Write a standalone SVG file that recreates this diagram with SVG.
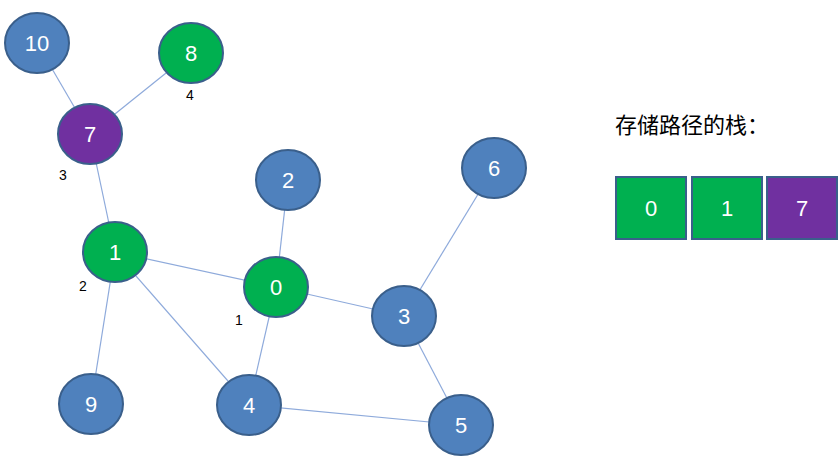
<svg xmlns="http://www.w3.org/2000/svg" width="838" height="475" viewBox="0 0 838 475">
<style>
.n{stroke:#3A5F8B;stroke-width:2}
.b{fill:#4F81BD}.g{fill:#00B050}.p{fill:#7030A0}
.t{font-family:"Liberation Sans",Arial,sans-serif;font-size:22px;fill:#fff;text-anchor:middle;dominant-baseline:central}
.s{font-family:"Liberation Sans",Arial,sans-serif;font-size:14px;fill:#000;text-anchor:middle}
.e{stroke:#8EAADB;stroke-width:1.2}
.bx{stroke:#3A5F8B;stroke-width:2}
</style>
<rect width="838" height="475" fill="#fff"/>
<g id="connectors" class="e">
<line x1="37" y1="43" x2="90" y2="134"/>
<line x1="191" y1="53" x2="90" y2="134"/>
<line x1="90" y1="134" x2="115" y2="252"/>
<line x1="115" y1="252" x2="276" y2="287"/>
<line x1="288" y1="180" x2="276" y2="287"/>
<line x1="276" y1="287" x2="404" y2="316"/>
<line x1="494" y1="168" x2="404" y2="316"/>
<line x1="404" y1="316" x2="461" y2="425"/>
<line x1="115" y1="252" x2="91" y2="404"/>
<line x1="115" y1="252" x2="249" y2="405"/>
<line x1="276" y1="287" x2="249" y2="405"/>
<line x1="249" y1="405" x2="461" y2="425"/>
</g>
<g id="n10"><ellipse class="n b" cx="37" cy="43" rx="32" ry="30"/><text class="t" x="37" y="43">10</text></g>
<g id="n8"><ellipse class="n g" cx="191" cy="53" rx="32" ry="30"/><text class="t" x="191" y="53">8</text></g>
<g id="n7"><ellipse class="n p" cx="90" cy="134" rx="32" ry="30"/><text class="t" x="90" y="134">7</text></g>
<g id="n2"><ellipse class="n b" cx="288" cy="180" rx="32" ry="30"/><text class="t" x="288" y="180">2</text></g>
<g id="n6"><ellipse class="n b" cx="494" cy="168" rx="32" ry="30"/><text class="t" x="494" y="168">6</text></g>
<g id="n1"><ellipse class="n g" cx="115" cy="252" rx="32" ry="30"/><text class="t" x="115" y="252">1</text></g>
<g id="n0"><ellipse class="n g" cx="276" cy="287" rx="32" ry="30"/><text class="t" x="276" y="287">0</text></g>
<g id="n3"><ellipse class="n b" cx="404" cy="316" rx="32" ry="30"/><text class="t" x="404" y="316">3</text></g>
<g id="n9"><ellipse class="n b" cx="91" cy="404" rx="32" ry="30"/><text class="t" x="91" y="404">9</text></g>
<g id="n4"><ellipse class="n b" cx="249" cy="405" rx="32" ry="30"/><text class="t" x="249" y="405">4</text></g>
<g id="n5"><ellipse class="n b" cx="461" cy="425" rx="32" ry="30"/><text class="t" x="461" y="425">5</text></g>
<g id="labels">
<text class="s" x="190" y="100">4</text>
<text class="s" x="63" y="180">3</text>
<text class="s" x="83" y="291">2</text>
<text class="s" x="239" y="325">1</text>
</g>
<g id="stack">
<text x="615" y="133" style="font-family:'Liberation Sans','Noto Sans CJK SC',sans-serif;font-size:22px;fill:#000">存储路径的栈：</text>
<rect class="bx g" x="616" y="177" width="70" height="62"/><text class="t" x="651" y="208">0</text>
<rect class="bx g" x="692" y="177" width="70" height="62"/><text class="t" x="727" y="208">1</text>
<rect class="bx p" x="767" y="177" width="70" height="62"/><text class="t" x="802" y="208">7</text>
</g>
</svg>
